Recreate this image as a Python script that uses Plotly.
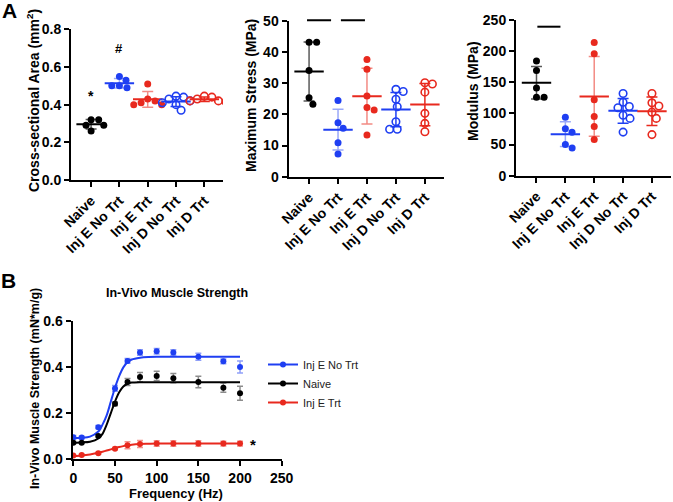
import numpy as np
import plotly.graph_objects as go

W, H = 673, 502
FONT = "Liberation Sans"
BLUE = "#1f3ff2"
RED = "#e8291e"
BLACK = "#000000"

# ---------------- data ----------------
groups = ["Naive", "Inj E No Trt", "Inj E Trt", "Inj D No Trt", "Inj D Trt"]

csa_naive = [0.32, 0.32, 0.29, 0.29, 0.26]
csa_e_notrt = [0.55, 0.53, 0.50, 0.50, 0.49]
csa_e_trt = [0.51, 0.43, 0.42, 0.41, 0.40, 0.40]
csa_d_notrt = [0.445, 0.44, 0.43, 0.42, 0.41, 0.40, 0.37]
csa_d_trt = [0.445, 0.44, 0.43, 0.42, 0.42, 0.415]

stress_naive = [43.1, 43.1, 34.0, 25.3, 23.2]
stress_e_notrt = [24.4, 17.3, 15.5, 10.9, 7.3]
stress_e_trt = [37.6, 34.4, 25.9, 22.2, 21.4, 13.4]
stress_d_notrt = [28.0, 27.3, 24.8, 22.4, 17.6, 15.2, 15.2]
stress_d_trt = [30.1, 29.7, 27.1, 20.3, 17.1, 14.4]

mod_naive = [184, 169, 141, 126, 126]
mod_e_notrt = [94, 75.5, 69.6, 50, 44.5]
mod_e_trt = [214, 196, 122, 95, 79, 58]
mod_d_notrt = [132, 118, 111, 109, 97, 92, 70]
mod_d_trt = [132, 117, 112, 102, 92, 66]

freq = [0, 10, 30, 50, 65, 80, 100, 120, 150, 180, 200]
str_e_notrt = [0.095, 0.094, 0.139, 0.307, 0.426, 0.462, 0.468, 0.462, 0.444, 0.424, 0.400]
sem_e_notrt = [0.008, 0.006, 0.007, 0.012, 0.010, 0.012, 0.012, 0.012, 0.015, 0.010, 0.026]
str_naive = [0.072, 0.072, 0.101, 0.240, 0.335, 0.356, 0.361, 0.351, 0.335, 0.310, 0.286]
sem_naive = [0.005, 0.004, 0.005, 0.008, 0.015, 0.020, 0.020, 0.020, 0.025, 0.020, 0.030]
str_e_trt = [0.016, 0.019, 0.026, 0.046, 0.061, 0.066, 0.068, 0.068, 0.068, 0.068, 0.068]
sem_e_trt = [0.003, 0.003, 0.004, 0.005, 0.015, 0.015, 0.012, 0.012, 0.012, 0.010, 0.010]

# fitted curves
fit_x = [0, 10, 20, 30, 35, 40, 45, 50, 55, 60, 65, 70, 80, 90, 100, 150, 200]
fit_e_notrt = [0.092, 0.093, 0.098, 0.120, 0.150, 0.190, 0.250, 0.310, 0.360, 0.398, 0.420, 0.432, 0.440, 0.443, 0.444, 0.444, 0.444]
fit_naive = [0.072, 0.073, 0.076, 0.090, 0.110, 0.150, 0.200, 0.250, 0.290, 0.315, 0.327, 0.332, 0.334, 0.334, 0.334, 0.334, 0.334]
fit_e_trt = [0.013, 0.016, 0.021, 0.028, 0.033, 0.038, 0.043, 0.048, 0.053, 0.057, 0.060, 0.063, 0.066, 0.067, 0.068, 0.068, 0.068]

# ---------------- styling ----------------
grp_color = [BLACK, BLUE, RED, BLUE, RED]
grp_open = [False, False, False, True, True]
grp_err = ["rgba(0,0,0,0.65)", "rgba(31,63,242,0.45)", "rgba(232,41,30,0.55)", BLUE, RED]

def px2x(px):
    return px / W

def py2y(py):
    return 1 - py / H

XR = [-0.71, 4.66]
panels = [
    dict(data=[csa_naive, csa_e_notrt, csa_e_trt, csa_d_notrt, csa_d_trt],
         x0=71, x1=223, y0=180, y1=29.3, yr=[0, 0.8], dtick=0.2, fmt=".1f"),
    dict(data=[stress_naive, stress_e_notrt, stress_e_trt, stress_d_notrt, stress_d_trt],
         x0=288.5, x1=444, y0=176.7, y1=20.7, yr=[0, 50], dtick=10, fmt="d"),
    dict(data=[mod_naive, mod_e_notrt, mod_e_trt, mod_d_notrt, mod_d_trt],
         x0=516, x1=671, y0=175.7, y1=20, yr=[0, 250], dtick=50, fmt="d"),
]

axis_style = dict(showline=True, linecolor="black", linewidth=2, ticks="outside",
                  ticklen=5, tickwidth=2, tickcolor="black", showgrid=False,
                  zeroline=False, fixedrange=True, automargin=False,
                  tickfont=dict(family=FONT, size=14, color="black", weight="bold"))


def swarm(values, ppu, ppc, d=7.6):
    """simple beeswarm: returns x offsets (category units)"""
    order = sorted(range(len(values)), key=lambda i: -values[i])
    placed = []
    offs = [0.0] * len(values)
    for i in order:
        y = values[i] * ppu
        cands = [0.0]
        for (px, py) in placed:
            dy = abs(py - y)
            if dy < d:
                dx = np.sqrt(d * d - dy * dy)
                cands += [px + dx, px - dx]
        cands.sort(key=lambda c: (abs(c), -c))
        for c in cands:
            if all((c - px) ** 2 + (y - py) ** 2 >= d * d - 0.01 for (px, py) in placed):
                placed.append((c, y))
                offs[i] = c / ppc
                break
    return offs


fig = go.Figure()
layout = {}

for k, p in enumerate(panels, start=1):
    sx = "" if k == 1 else str(k)
    xa, ya = "x" + sx, "y" + sx
    layout["xaxis" + sx] = dict(domain=[px2x(p["x0"]), px2x(p["x1"])], range=XR,
                                anchor=ya, tickmode="array", tickvals=list(range(5)),
                                ticktext=groups, tickangle=-45, **axis_style)
    layout["yaxis" + sx] = dict(domain=[py2y(p["y0"]), py2y(p["y1"])], range=p["yr"],
                                anchor=xa, tick0=0, dtick=p["dtick"], tickformat=p["fmt"],
                                **axis_style)
    ppu = (p["y0"] - p["y1"]) / (p["yr"][1] - p["yr"][0])
    ppc = (p["x1"] - p["x0"]) / (XR[1] - XR[0])
    for g, vals in enumerate(p["data"]):
        m = float(np.mean(vals))
        sd = float(np.std(vals, ddof=1))
        fig.add_trace(go.Scatter(
            x=[g], y=[m], xaxis=xa, yaxis=ya, mode="markers", showlegend=False,
            marker=dict(symbol="line-ew", size=21, color=grp_color[g],
                        line=dict(width=2, color=grp_color[g])),
            error_y=dict(type="data", array=[sd], color=grp_err[g], thickness=1.5, width=5.5),
            hoverinfo="skip"))
        offs = swarm(vals, ppu, ppc)
        if grp_open[g]:
            mk = dict(symbol="circle-open", size=7.5, color=grp_color[g],
                      line=dict(width=1.6, color=grp_color[g]))
        else:
            mk = dict(symbol="circle", size=7, color=grp_color[g], line=dict(width=0))
        fig.add_trace(go.Scatter(
            x=[g + o for o in offs], y=vals, xaxis=xa, yaxis=ya, mode="markers",
            showlegend=False, marker=mk))

# ---------------- panel B ----------------
layout["xaxis4"] = dict(domain=[px2x(72.5), px2x(281.7)], range=[-1, 250], anchor="y4",
                        tick0=0, dtick=50, **axis_style)
layout["yaxis4"] = dict(domain=[py2y(459.3), py2y(320.7)], range=[0, 0.6], anchor="x4",
                        tick0=0, dtick=0.2, tickformat=".1f", **axis_style)

series_b = [
    ("Inj E No Trt", str_e_notrt, sem_e_notrt, fit_e_notrt, BLUE, "rgba(31,63,242,0.5)"),
    ("Naive", str_naive, sem_naive, fit_naive, BLACK, "rgba(0,0,0,0.45)"),
    ("Inj E Trt", str_e_trt, sem_e_trt, fit_e_trt, RED, "rgba(232,41,30,0.5)"),
]
for name, ys, es, fy, c, ec in series_b:
    fig.add_trace(go.Scatter(x=fit_x, y=fy, xaxis="x4", yaxis="y4", mode="lines",
                             line=dict(color=c, width=2, shape="spline", smoothing=0.8),
                             showlegend=False, hoverinfo="skip"))
    fig.add_trace(go.Scatter(x=freq, y=ys, xaxis="x4", yaxis="y4", mode="markers",
                             marker=dict(color=c, size=6),
                             error_y=dict(type="data", array=es, color=ec, thickness=1.5, width=3),
                             showlegend=False))
for name, ys, es, fy, c, ec in series_b:
    fig.add_trace(go.Scatter(x=[None], y=[None], xaxis="x4", yaxis="y4", name=name,
                             mode="lines+markers", line=dict(color=c, width=2),
                             marker=dict(color=c, size=6)))

# ---------------- annotations ----------------
def ann(text, x, y, size, angle=0, weight="bold", xref="paper", yref="paper"):
    return dict(text=text, x=x, y=y, xref=xref, yref=yref, showarrow=False,
                textangle=angle, xanchor="center", yanchor="middle",
                font=dict(family=FONT, size=size, color="black", weight=weight))

annotations = [
    ann("A", px2x(9.5), py2y(11), 21),
    ann("B", px2x(8.5), py2y(280), 21),
    ann("Cross-sectional Area (mm<sup>2</sup>)", px2x(33), py2y(101), 14, -90),
    ann("Maximum Stress (MPa)", px2x(251), py2y(96), 14, -90),
    ann("Modulus (MPa)", px2x(473), py2y(91), 14, -90),
    ann("In-Vivo Muscle Strength (mN*m/g)", px2x(35), py2y(389), 12.5, -90),
    ann("In-Vivo Muscle Strength", px2x(177), py2y(293), 12.5),
    ann("Frequency (Hz)", px2x(176), py2y(493), 13),
    ann("*", 0, 0.445, 14, xref="x", yref="y"),
    ann("#", 1, 0.70, 13, xref="x", yref="y"),
    ann("*", 216, 0.064, 15, xref="x4", yref="y4"),
]

shapes = [
    dict(type="line", xref="x2", yref="paper", x0=-0.07, x1=0.76,
         y0=py2y(20.3), y1=py2y(20.3), line=dict(color="black", width=2)),
    dict(type="line", xref="x2", yref="paper", x0=1.10, x1=1.93,
         y0=py2y(20.3), y1=py2y(20.3), line=dict(color="black", width=2)),
    dict(type="line", xref="x3", yref="paper", x0=0.03, x1=0.83,
         y0=py2y(26.7), y1=py2y(26.7), line=dict(color="black", width=2)),
]

fig.update_layout(
    template="none",
    width=W, height=H, margin=dict(l=0, r=0, t=0, b=0, pad=0, autoexpand=False),
    paper_bgcolor="white", plot_bgcolor="white",
    font=dict(family=FONT, color="black"),
    annotations=annotations, shapes=shapes,
    showlegend=True,
    legend=dict(x=px2x(263), y=py2y(350), xanchor="left", yanchor="top",
                font=dict(family=FONT, size=11, color="#222222"),
                bgcolor="rgba(0,0,0,0)", tracegroupgap=0, itemwidth=30),
    **layout,
)

fig.write_html("out.html", config={"displayModeBar": False},
               post_script="document.body.style.margin='0';document.body.style.padding='0';")
